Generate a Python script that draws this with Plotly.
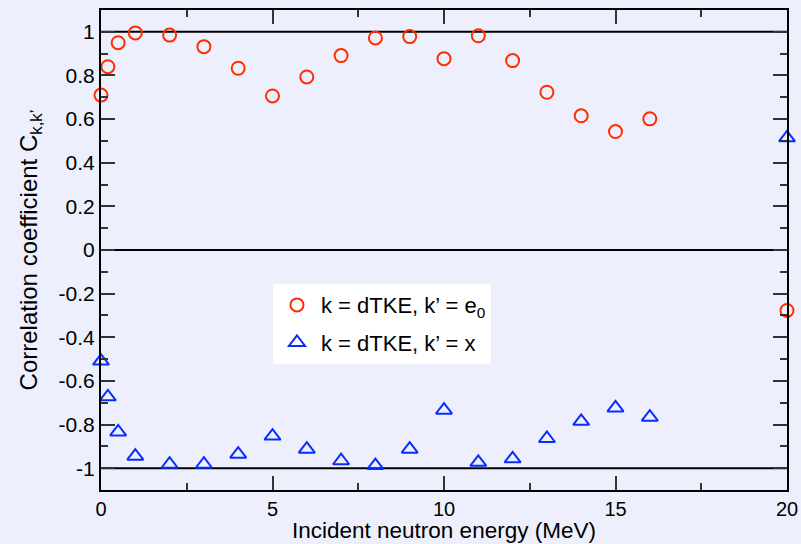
import plotly.graph_objects as go

# ---- data ----
energy = [0, 0.2, 0.5, 1, 2, 3, 4, 5, 6, 7, 8, 9, 10, 11, 12, 13, 14, 15, 16, 20]
corr_e0 = [0.71, 0.84, 0.95, 0.995, 0.985, 0.932, 0.833, 0.706, 0.793, 0.891,
           0.972, 0.978, 0.877, 0.982, 0.868, 0.723, 0.615, 0.543, 0.601, -0.277]
corr_x = [-0.509, -0.673, -0.834, -0.945, -0.982, -0.982, -0.936, -0.853, -0.913, -0.966,
          -0.988, -0.913, -0.734, -0.973, -0.957, -0.864, -0.785, -0.724, -0.766, 0.514]

x_tickvals = [0, 5, 10, 15, 20]
x_ticktext = ["0", "5", "10", "15", "20"]
y_tickvals = [-1, -0.8, -0.6, -0.4, -0.2, 0, 0.2, 0.4, 0.6, 0.8, 1]
y_ticktext = ["-1", "-0.8", "-0.6", "-0.4", "-0.2", "0", "0.2", "0.4", "0.6", "0.8", "1"]
ref_lines = [1, 0, -1]

x_title = "Incident neutron energy (MeV)"
y_title = "Correlation coefficient C<sub>k,k\u2019</sub>"
name_e0 = "k = dTKE, k\u2019 = e<sub>0</sub>"
name_x = "k = dTKE, k\u2019 = x"

BG = "rgb(237,240,252)"
FONT = "Liberation Sans, Arial, Helvetica, sans-serif"

fig = go.Figure()
fig.add_trace(go.Scatter(
    x=energy, y=corr_e0, mode="markers", name=name_e0, legendgroup="a",
    cliponaxis=False,
    marker=dict(symbol="circle-open", size=13, color="rgb(255,45,0)",
                line=dict(width=2, color="rgb(255,45,0)")),
))
fig.add_trace(go.Scatter(
    x=energy, y=corr_x, mode="markers", name=name_x, legendgroup="b",
    cliponaxis=False,
    marker=dict(symbol="triangle-up-open", size=14, color="rgb(10,45,255)",
                line=dict(width=2, color="rgb(10,45,255)")),
))

for yv in ref_lines:
    fig.add_shape(type="line", xref="paper", yref="y", x0=0, x1=1, y0=yv, y1=yv,
                  line=dict(color="black", width=2), layer="below")

axis_common = dict(
    showline=True, linecolor="black", linewidth=2, mirror="allticks",
    ticks="inside", ticklen=14, tickwidth=1.5, tickcolor="#333",
    showgrid=False, zeroline=False, automargin=False,
)

fig.update_xaxes(
    range=[0, 20], tickvals=x_tickvals, ticktext=x_ticktext,
    tickfont=dict(family=FONT, size=20, color="black"),
    minor=dict(ticks="inside", ticklen=7, dtick=2.5, tick0=0, tickcolor="#333", tickwidth=1.5),
    **axis_common,
)
fig.update_yaxes(
    range=[-1.1, 1.1], tickvals=y_tickvals, ticktext=y_ticktext,
    tickfont=dict(family=FONT, size=21, color="black"),
    minor=dict(ticks="inside", ticklen=7, dtick=0.1, tick0=0, tickcolor="#333", tickwidth=1.5),
    title=dict(text=y_title, font=dict(family=FONT, size=24, color="black"), standoff=14),
    **axis_common,
)

fig.add_annotation(
    text=x_title, xref="paper", yref="paper", x=0.5, y=-0.1125,
    xanchor="center", yanchor="bottom", showarrow=False, borderpad=0,
    font=dict(family=FONT, size=22.5, color="black"),
)

fig.update_layout(
    width=801, height=544,
    margin=dict(l=101, r=14, t=10, b=54),
    paper_bgcolor=BG, plot_bgcolor=BG,
    font=dict(family=FONT, size=21, color="black"),
    showlegend=True,
    legend=dict(x=0.2507, y=0.429, xanchor="left", yanchor="top",
                bgcolor="white", borderwidth=0, tracegroupgap=6, itemwidth=38,
                font=dict(family=FONT, size=22, color="black")),
)

fig.write_html("out.html")
